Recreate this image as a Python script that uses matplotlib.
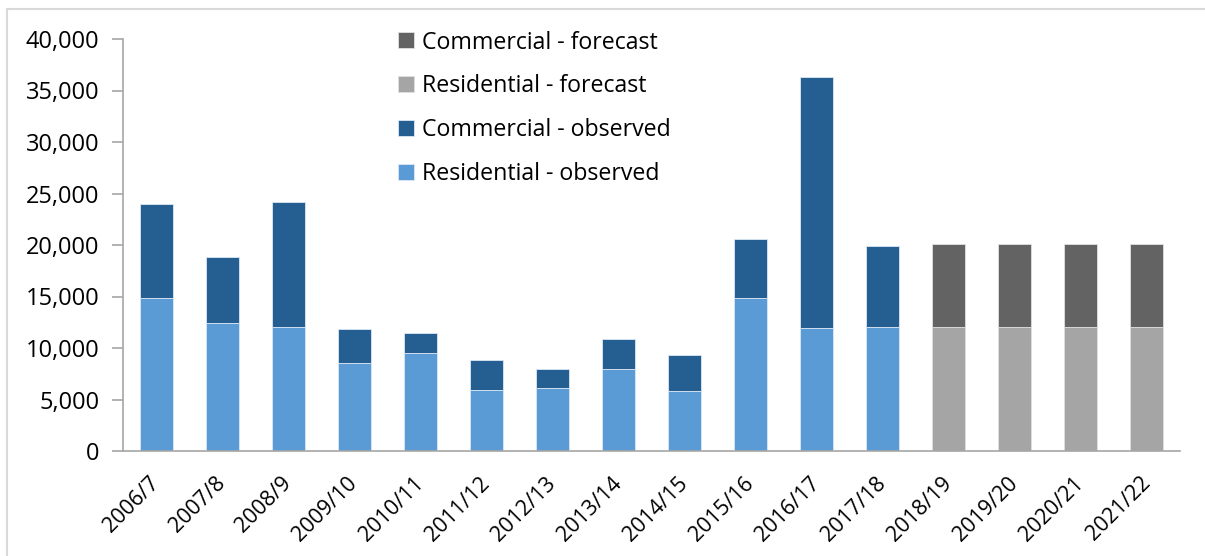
import matplotlib
matplotlib.use("Agg")
import matplotlib.pyplot as plt
import numpy as np
from matplotlib.patches import Rectangle
from matplotlib.ticker import FuncFormatter

years = ["2006/7", "2007/8", "2008/9", "2009/10", "2010/11", "2011/12",
         "2012/13", "2013/14", "2014/15", "2015/16", "2016/17", "2017/18",
         "2018/19", "2019/20", "2020/21", "2021/22"]

# Observed totals split into residential and commercial parts
residential_observed = [14850, 12450, 12000, 8500, 9550, 5900, 6150, 7950,
                        5800, 14900, 11900, 12050, 0, 0, 0, 0]
commercial_observed = [9150, 6350, 12150, 3300, 1900, 2950, 1850, 2900,
                       3550, 5650, 24450, 7900, 0, 0, 0, 0]
residential_forecast = [0, 0, 0, 0, 0, 0, 0, 0, 0, 0, 0, 0,
                        12050, 12050, 12050, 12050]
commercial_forecast = [0, 0, 0, 0, 0, 0, 0, 0, 0, 0, 0, 0,
                       8000, 8000, 8000, 8000]

col_res_obs = "#5B9BD5"
col_com_obs = "#255E91"
col_res_fc = "#A5A5A5"
col_com_fc = "#636363"

plt.rcParams["font.family"] = ["Open Sans", "DejaVu Sans"]

W, H = 1205, 556
fig = plt.figure(figsize=(W / 100, H / 100), dpi=100)
ax = fig.add_axes([123 / W, 1 - 451 / H, (1180 - 123) / W, (451 - 39) / H])

x = np.arange(len(years))
w = 0.5
edge = dict(edgecolor="#dce8f5", linewidth=0.6)
ax.bar(x, residential_observed, w, color=col_res_obs, label="Residential - observed", **edge)
ax.bar(x, commercial_observed, w, bottom=residential_observed, color=col_com_obs,
       label="Commercial - observed", **edge)
edge_g = dict(edgecolor="#e0e0e0", linewidth=0.6)
ax.bar(x, residential_forecast, w, color=col_res_fc, label="Residential - forecast", **edge_g)
ax.bar(x, commercial_forecast, w, bottom=residential_forecast, color=col_com_fc,
       label="Commercial - forecast", **edge_g)

ax.set_xlim(-0.5, len(years) - 0.5)
ax.set_ylim(0, 40000)
ax.set_yticks(np.arange(0, 40001, 5000))
ax.yaxis.set_major_formatter(FuncFormatter(lambda v, p: f"{int(v):,}"))
ax.set_xticks(x)
ax.set_xticklabels(years, rotation=45, ha="right", va="center", rotation_mode="anchor")

for s in ["top", "right"]:
    ax.spines[s].set_visible(False)
for s in ["left", "bottom"]:
    ax.spines[s].set_color("#a6a6a6")
    ax.spines[s].set_linewidth(1.2)
ax.tick_params(axis="y", length=8, color="#a6a6a6", width=1.2, labelsize=17, pad=9)
ax.tick_params(axis="x", length=0, labelsize=15.5, pad=21)

handles, labels = ax.get_legend_handles_labels()
order = [3, 2, 1, 0]
leg = ax.legend([handles[i] for i in order], [labels[i] for i in order],
                loc="upper left", bbox_to_anchor=(0.2515, 1.043), frameon=False,
                fontsize=16.7, handlelength=0.68, handleheight=0.68,
                handletextpad=0.35, labelspacing=0.85, borderaxespad=0)

# Light frame around the chart area (top and left edges fall inside the image)
fig.patches.append(Rectangle((7 / W, -20 / H), 1230 / W, (H - 9 + 20) / H,
                             transform=fig.transFigure, fill=False,
                             edgecolor="#d9d9d9", linewidth=1.5))

fig.savefig("out.png", dpi=100)
